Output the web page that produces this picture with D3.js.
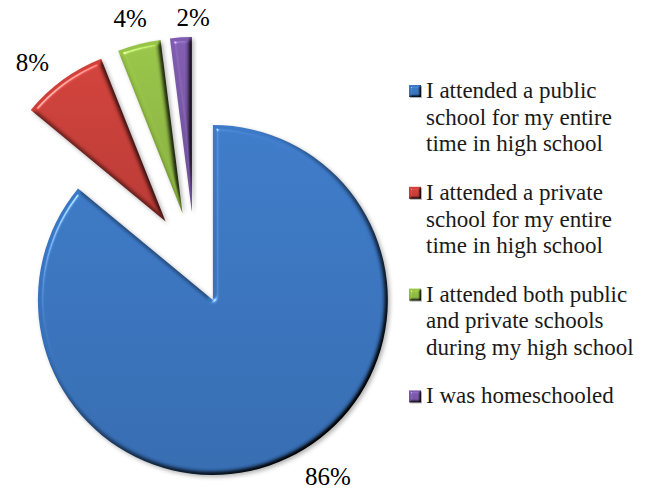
<!DOCTYPE html>
<html><head><meta charset="utf-8">
<script src="https://cdn.jsdelivr.net/npm/d3@7"></script>
<style>
html,body{margin:0;padding:0;background:#fff}
svg text{font-family:"Liberation Serif","Times New Roman",serif}
</style>
</head><body>
<svg id="chart" width="652" height="495"></svg>
<script>
// Survey: type of high school attended
const categories = [
  "I attended a public\nschool for my entire\ntime in high school",
  "I attended a private\nschool for my entire\ntime in high school",
  "I attended both public\nand private schools\nduring my high school",
  "I was homeschooled"
];
const values = [86, 8, 4, 2];
const valueLabels = ["86%", "8%", "4%", "2%"];
const colors = ["#3a75c0", "#c93e39", "#92bd45", "#7a58a8"];

// layout
const W = 652, H = 495;
const cx = 195, cy = 262, radius = 175;
const explode = [42, 50, 50, 50];
const labelAngleShift = [-7.7, -4.3, -0.7, 4.0];
const labelRadius = [212, 206, 201, 193];

const svg = d3.select("#chart");
svg.append("rect").attr("width", W).attr("height", H).attr("fill", "#fff");
const defs = svg.append("defs");

// bevel + soft shadow
function addBevel(id, blur, scale, shadow) {
  const f = defs.append("filter").attr("id", id)
    .attr("color-interpolation-filters", "sRGB")
    .attr("x", "-20%").attr("y", "-20%").attr("width", "140%").attr("height", "140%");
  f.append("feGaussianBlur").attr("in", "SourceAlpha").attr("stdDeviation", blur).attr("result", "b");
  f.append("feDiffuseLighting").attr("in", "b").attr("surfaceScale", scale)
    .attr("diffuseConstant", 1.3).attr("lighting-color", "#fff").attr("result", "d")
    .append("feDistantLight").attr("azimuth", 225).attr("elevation", 50);
  f.append("feSpecularLighting").attr("in", "b").attr("surfaceScale", scale)
    .attr("specularConstant", 0.5).attr("specularExponent", 60)
    .attr("lighting-color", "#fff").attr("result", "s")
    .append("feDistantLight").attr("azimuth", 225).attr("elevation", 50);
  f.append("feComposite").attr("in", "SourceGraphic").attr("in2", "d")
    .attr("operator", "arithmetic").attr("k1", 1).attr("result", "lit");
  f.append("feComposite").attr("in", "s").attr("in2", "SourceAlpha")
    .attr("operator", "in").attr("result", "sIn");
  f.append("feComposite").attr("in", "lit").attr("in2", "sIn")
    .attr("operator", "arithmetic").attr("k2", 1).attr("k3", 1).attr("result", "bev");
  f.append("feGaussianBlur").attr("in", "SourceAlpha").attr("stdDeviation", shadow).attr("result", "sb");
  f.append("feOffset").attr("in", "sb").attr("dx", shadow).attr("dy", shadow).attr("result", "so");
  f.append("feFlood").attr("flood-color", "#000").attr("flood-opacity", 0.3).attr("result", "fc");
  f.append("feComposite").attr("in", "fc").attr("in2", "so").attr("operator", "in").attr("result", "shadow");
  const m = f.append("feMerge");
  m.append("feMergeNode").attr("in", "shadow");
  m.append("feMergeNode").attr("in", "bev");
}
addBevel("bevel", 2.5, 4, 2);
addBevel("bevelSmall", 1, 2, 0.6);

colors.forEach((c, i) => {
  const g = defs.append("linearGradient").attr("id", "grad" + i)
    .attr("x1", 0).attr("y1", 0).attr("x2", 0).attr("y2", 1);
  g.append("stop").attr("offset", "0%").attr("stop-color", d3.color(c).brighter(0.12));
  g.append("stop").attr("offset", "100%").attr("stop-color", d3.color(c).darker(0.25));
});

const pie = d3.pie().sort(null).value(d => d);
const arcs = pie(values);
const arc = d3.arc().innerRadius(0).outerRadius(radius);
const rad = Math.PI / 180;

const slices = svg.append("g").attr("transform", `translate(${cx},${cy})`);
slices.selectAll("path").data(arcs).join("path")
  .attr("transform", (d, i) => {
    const a = (d.startAngle + d.endAngle) / 2;
    return `translate(${Math.sin(a) * explode[i]},${-Math.cos(a) * explode[i]})`;
  })
  .attr("d", arc)
  .attr("fill", (d, i) => `url(#grad${i})`)
  .attr("filter", "url(#bevel)");

// value labels outside each slice
slices.selectAll("text").data(arcs).join("text")
  .each(function (d, i) {
    const a = (d.startAngle + d.endAngle) / 2;
    const ox = Math.sin(a) * explode[i], oy = -Math.cos(a) * explode[i];
    const la = a + labelAngleShift[i] * rad;
    const x = ox + Math.sin(la) * labelRadius[i];
    const y = oy - Math.cos(la) * labelRadius[i];
    d3.select(this).attr("x", x).attr("y", y + 7);
  })
  .attr("text-anchor", "middle")
  .attr("font-size", 25)
  .attr("fill", "#000")
  .text((d, i) => valueLabels[i]);

// legend
const legendX = 409, legendTextX = 426, legendTop = 98, lineH = 26.7, groupGap = 21.7;
const legend = svg.append("g");
let baseline = legendTop;
categories.forEach((cat, i) => {
  const lines = cat.split("\n");
  legend.append("rect")
    .attr("x", legendX).attr("y", baseline - 13)
    .attr("width", 12).attr("height", 12)
    .attr("fill", `url(#grad${i})`)
    .attr("filter", "url(#bevelSmall)");
  const t = legend.append("text")
    .attr("font-size", 23).attr("fill", "#1a1a1a");
  lines.forEach((ln, j) => {
    t.append("tspan").attr("x", legendTextX).attr("y", baseline + j * lineH).text(ln);
  });
  baseline += lines.length * lineH + groupGap;
});
</script>
</body></html>
